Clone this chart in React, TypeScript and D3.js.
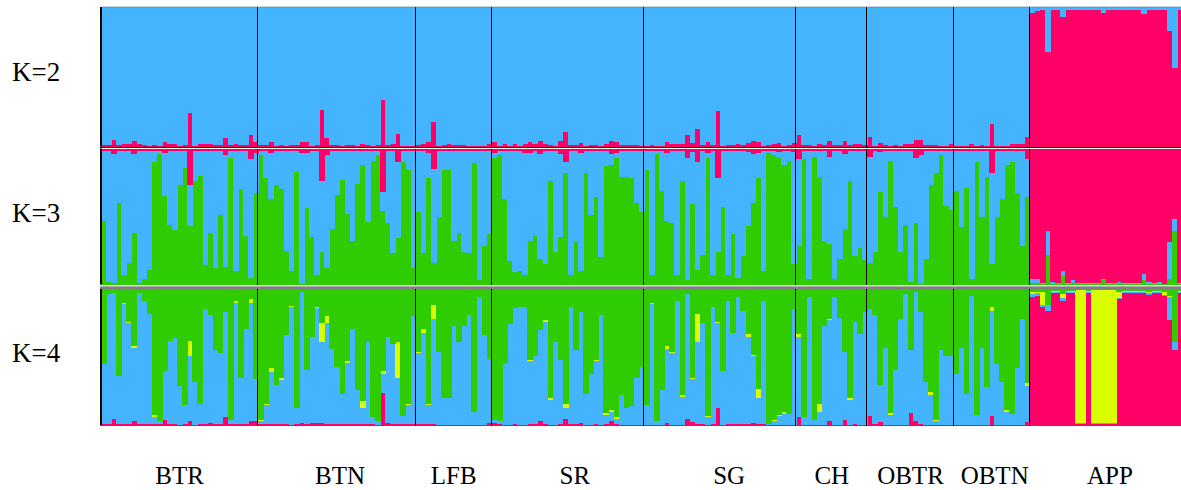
import React from "react";
import * as d3 from "d3";

// populations, in plot order
const popNames = ["BTR", "BTN", "LFB", "SR", "SG", "CH", "OBTR", "OBTN", "APP"];

// K=2 : red share per individual (blue = rest)
const k2Red = [
  [.01, .01, .05, .01, .02, .02, .04, .02, .01, .005, .01, .005, .035, .015, .015, .005, .01, .24, .005, .015, .015, .02, .01, .01, .06, .01, .02, .01, .01, .08, .03],
  [.01, .01, .035, .005, .01, .005, .01, .01, .03, .03, .005, .01, .26, .06, .01, .01, .005, .01, .01, .005, .02, .01, .005, .01, .33, .01, .02, .09, .003, .003, .003],
  [.01, .02, .03, .175, .005, .01, .02, .01, .01, .01, .005, .005, .005, .005, .02],
  [.03, .005, .015, .005, .015, .005, .02, .03, .015, .04, .02, .01, .005, .04, .105, .01, .01, .025, .005, .01, .01, .005, .02, .04, .035, .01, .01, .01, .01, .005],
  [.005, .01, .005, .005, .03, .02, .02, .02, .08, .025, .125, .01, .03, .01, .255, .005, .01, .01, .02, .01, .025, .04, .03, .005, .01, .02, .025, .005, .01, .025],
  [.08, .01, .01, .005, .02, .01, .04, .01, .01, .04, .01, .02, .015, .01],
  [.065, .005, .025, .01, .005, .01, .005, .02, .015, .05, .045, .01, .01, .01, .005, .005, .015],
  [.005, .005, .005, .015, .005, .01, .005, .16, .005, .005, .005, .015, .015, .015, .07],
  [.96, .97, .975, .68, .98, .98, .93, .975, .975, .98, .98, .98, .98, .98, .96, .98, .98, .98, .98, .98, .98, .98, .95, .975, .98, .98, .98, .825, .56, .98],
];

// K=3 : green and red shares (blue = rest)
const k3Green = [
  [.47, .02, .01, .60, .07, .16, .38, .01, .04, .11, .90, .96, .65, .44, .40, .73, .86, .43, .76, .80, .14, .38, .12, .51, .13, .93, .10, .70, .36, .05, .67],
  [.95, .78, .63, .73, .70, .25, .10, .83, .005, .56, .35, .07, .24, .12, .41, .66, .77, .52, .32, .74, .88, .46, .91, .95, .54, .45, .23, .34, .90, .84, .12],
  [.53, .23, .78, .16, .50, .84, .84, .32, .38, .24, .23, .89, .03, .28, .37],
  [.93, .95, .63, .17, .09, .10, .07, .32, .36, .19, .15, .76, .24, .35, .82, .07, .31, .10, .82, .51, .64, .20, .87, .88, .93, .79, .79, .78, .60, .53],
  [.84, .07, .96, .69, .47, .45, .07, .76, .03, .59, .11, .22, .93, .07, .24, .57, .07, .37, .05, .21, .43, .60, .78, .10, .97, .95, .94, .88, .91, .15],
  [.28, .92, .04, .94, .79, .32, .30, .04, .19, .41, .76, .21, .27, .18],
  [.16, .24, .68, .50, .91, .57, .24, .44, .02, .45, .005, .19, .73, .82, .95, .58, .55],
  [.69, .42, .71, .04, .90, .50, .79, .15, .50, .63, .88, .90, .67, .28, .64],
  [.01, .01, .005, .22, .005, .005, .06, .005, .01, .005, .005, .005, .005, .005, .03, .005, .005, .01, .005, .005, .005, .005, .03, .005, .005, .005, .002, .04, .39, .005],
];
const k3Red = [
  [.02, .02, .04, .02, .02, .02, .04, .02, .02, .02, .02, .02, .035, .02, .02, .02, .02, .27, .02, .02, .02, .02, .02, .02, .05, .02, .02, .02, .02, .08, .03],
  [.02, .02, .035, .02, .02, .02, .02, .02, .03, .03, .02, .02, .24, .05, .02, .02, .02, .02, .02, .02, .02, .02, .02, .02, .32, .02, .02, .10, .02, .02, .02],
  [.02, .02, .03, .15, .02, .02, .02, .02, .02, .02, .02, .02, .02, .02, .02],
  [.03, .02, .02, .02, .02, .02, .03, .03, .02, .04, .02, .02, .02, .04, .10, .02, .02, .03, .02, .02, .02, .02, .02, .04, .035, .02, .02, .02, .02, .02],
  [.02, .02, .02, .02, .03, .02, .02, .02, .07, .025, .10, .02, .03, .02, .22, .02, .02, .02, .02, .02, .025, .04, .03, .02, .02, .02, .025, .02, .02, .025],
  [.08, .02, .02, .02, .02, .02, .06, .02, .02, .04, .02, .02, .02, .02],
  [.06, .02, .025, .02, .02, .02, .02, .02, .02, .07, .045, .02, .02, .02, .02, .02, .02],
  [.02, .015, .015, .02, .015, .02, .015, .18, .015, .015, .015, .02, .02, .02, .08],
  [.96, .96, .99, .61, .98, .99, .90, .99, .97, .99, .99, .99, .99, .99, .96, .99, .99, .985, .99, .99, .99, .99, .92, .98, .99, .98, .995, .69, .52, .99],
];

// K=4 : red, blue, yellow shares (green = rest)
const k4Red = [
  [.01, .01, .05, .01, .01, .01, .035, .01, .01, .01, .01, .01, .04, .01, .01, .005, .01, .035, .005, .01, .01, .02, .01, .01, .06, .01, .01, .01, .01, .035, .035],
  [.01, .01, .01, .01, .01, .01, .005, .01, .015, .01, .015, .02, .02, .01, .01, .01, .01, .01, .01, .01, .01, .01, .01, .005, .24, .02, .01, .01, .01, .01, .01],
  [.01, .01, .01, .01, .005, .005, .005, .005, .005, .005, .005, .005, .005, .005, .015],
  [.02, .01, .005, .005, .01, .005, .005, .01, .01, .035, .01, .005, .005, .01, .05, .01, .01, .02, .005, .005, .01, .005, .01, .035, .01, .005, .005, .005, .005, .005],
  [.005, .005, .005, .005, .015, .005, .005, .005, .045, .025, .01, .01, .005, .01, .13, .005, .01, .01, .01, .01, .01, .02, .01, .01, .005, .005, .005, .005, .005, .005],
  [.065, .005, .005, .005, .005, .005, .035, .005, .005, .04, .005, .01, .005, .005],
  [.07, .01, .025, .005, .005, .005, .005, .005, .09, .03, .01, .005, .005, .005, .005, .005, .005],
  [.005, .005, .005, .005, .005, .005, .005, .07, .005, .005, .005, .005, .005, .005, .025],
  [.945, .95, .87, .84, .97, .97, .91, .97, .97, .01, .01, .97, .01, .01, .01, .01, .01, .93, .97, .97, .97, .97, .97, .955, .97, .97, .95, .77, .55, .97],
];
const k4Blue = [
  [.44, .95, .92, .35, .88, .74, .535, .96, .90, .81, .055, .02, .36, .61, .63, .285, .14, .475, .315, .15, .84, .79, .54, .52, .77, .03, .89, .34, .70, .865, .305],
  [.02, .14, .38, .29, .32, .65, .865, .12, .965, .40, .635, .84, .59, .74, .55, .42, .22, .45, .70, .25, .12, .60, .05, .025, .14, .63, .59, .34, .06, .14, .79],
  [.52, .67, .14, .77, .535, .195, .195, .725, .605, .725, .805, .095, .935, .655, .475],
  [.02, .02, .455, .735, .85, .865, .865, .46, .50, .665, .75, .185, .605, .47, .08, .86, .54, .81, .225, .375, .46, .805, .07, .065, .04, .215, .125, .135, .345, .425],
  [.145, .885, .025, .255, .545, .525, .905, .205, .915, .315, .60, .74, .055, .86, .62, .395, .90, .67, .93, .83, .64, .49, .19, .90, .005, .025, .065, .08, .08, .845],
  [.585, .055, .935, .035, .095, .725, .735, .935, .785, .50, .185, .75, .665, .825],
  [.78, .80, .275, .565, .075, .405, .775, .955, .46, .95, .82, .315, .215, .025, .545, .505, .505],
  [.375, .565, .225, .945, .075, .565, .275, .77, .445, .315, .095, .08, .415, .775, .265],
  [.02, .02, .01, .04, .005, .005, .025, .005, .005, .005, .005, .005, .005, .005, .005, .005, .005, .005, .005, .005, .005, .005, .005, .015, .005, .005, .005, .17, .065, .005],
];
const k4Yellow = [
  [0, 0, 0, 0, .005, .01, .01, 0, .005, 0, .01, 0, 0, 0, 0, 0, 0, .11, 0, 0, 0, 0, 0, 0, 0, 0, .015, 0, 0, .03, 0],
  [.01, .01, .03, 0, .02, 0, .005, 0, 0, 0, 0, .005, .14, .05, 0, 0, 0, .015, 0, 0, .05, 0, 0, 0, .02, 0, 0, .26, 0, .01, 0],
  [.01, .025, .01, .10, 0, 0, 0, 0, 0, 0, 0, 0, 0, 0, 0],
  [0, 0, 0, 0, 0, 0, 0, .01, 0, 0, .01, .01, 0, 0, .03, 0, 0, 0, 0, 0, .01, 0, .01, .01, .01, 0, 0, 0, 0, 0],
  [0, .01, 0, 0, .02, .01, 0, .01, 0, .01, .21, 0, .01, 0, .01, 0, 0, 0, .005, 0, .02, .01, .07, .005, 0, .01, .01, .015, 0, .005],
  [.02, 0, 0, 0, .06, 0, .01, 0, 0, 0, .01, 0, 0, 0],
  [0, 0, 0, 0, .01, 0, 0, 0, 0, 0, 0, 0, .025, .01, 0, 0, 0],
  [0, 0, 0, 0, 0, 0, 0, .03, 0, 0, .01, 0, 0, 0, .025],
  [.01, .005, .10, 0, .01, .01, .025, .01, .01, .975, .975, .01, .975, .975, .975, .975, .975, .045, .01, .01, .01, .01, .01, .01, .01, .01, .025, .01, 0, .01],
];

// small nudges of the population labels, as in the original figure
const labelShift = [0, 3, 0, 7, 9, 0, 0, 3, 4];

const colors: Record<string, string> = {
  red: "#ff0066",
  blue: "#45b4ff",
  green: "#2ecc00",
  yellow: "#d9ff00",
};

const width = 1181;
const height = 490;
const plotLeft = 101;
const plotRight = 1182;
const serif = "Liberation Serif, Times New Roman, serif";

const clamp = (v: number) => Math.max(0, v);

export default function App() {
  const sizes = k2Red.map((p) => p.length);
  const n = d3.sum(sizes);
  const ids = d3.range(n);
  // population boundaries, as a plain array (d3.cumsum gives a typed array)
  const starts: number[] = Array.from(d3.cumsum([0, ...sizes]));

  const x = d3.scaleBand<number>().domain(ids).range([plotLeft, plotRight]).padding(0);
  const xPos = d3.scaleLinear().domain([0, n]).range([plotLeft, plotRight]);

  const r2 = k2Red.flat();
  const g3 = k3Green.flat();
  const r3 = k3Red.flat();
  const r4 = k4Red.flat();
  const b4 = k4Blue.flat();
  const y4 = k4Yellow.flat();

  const rows2 = ids.map((i) => ({ red: r2[i], blue: clamp(1 - r2[i]) }));
  const rows3 = ids.map((i) => ({ green: g3[i], blue: clamp(1 - g3[i] - r3[i]), red: r3[i] }));
  const rows4 = ids.map((i) => ({
    red: r4[i],
    blue: b4[i],
    yellow: y4[i],
    green: clamp(1 - r4[i] - b4[i] - y4[i]),
  }));

  const panels = [
    { label: "K=2", top: 7, bottom: 146.5, rows: rows2, keys: ["red", "blue"], labelY: 81 },
    { label: "K=3", top: 148.5, bottom: 284.5, rows: rows3, keys: ["green", "blue", "red"], labelY: 222 },
    { label: "K=4", top: 289, bottom: 425.5, rows: rows4, keys: ["red", "blue", "yellow", "green"], labelY: 362 },
  ];

  return (
    <div style={{ position: "absolute", left: 0, top: 0 }}>
      <svg width={width} height={height} style={{ display: "block", background: "#fff" }}>
        {panels.map((p) => {
          const y = d3.scaleLinear().domain([0, 1]).range([p.bottom, p.top]);
          const series = d3.stack<any>().keys(p.keys)(p.rows as any[]);
          return (
            <g key={p.label}>
              <g shapeRendering="crispEdges">
                {series.map((s) => (
                  <g key={s.key} fill={colors[s.key]}>
                    {s.map((d, i) => {
                      const x0 = x(i) as number;
                      const h = y(d[0]) - y(d[1]);
                      if (h <= 0) return null;
                      return <rect key={i} x={x0} y={y(d[1])} width={x.bandwidth() + 0.6} height={h} />;
                    })}
                  </g>
                ))}
              </g>
              <g shapeRendering="crispEdges">
                {starts.slice(1, -1).map((s, j) => {
                  const sx = Math.round(xPos(s)) - 0.5;
                  return <line key={j} x1={sx} x2={sx} y1={p.top} y2={p.bottom} stroke="#000" strokeWidth={1.3} />;
                })}
              </g>
              <line x1={plotLeft} x2={plotLeft} y1={p.top} y2={p.bottom} stroke="#000" strokeWidth={2} />
              <text x={12} y={p.labelY} style={{ fontFamily: serif, fontSize: 27 }} fill="#000">
                {p.label}
              </text>
            </g>
          );
        })}
        <line x1={plotLeft} x2={plotRight} y1={7} y2={7} stroke="#4a7fa5" strokeWidth={1} opacity={0.6} />
        <line x1={plotLeft - 1} x2={plotRight} y1={147.5} y2={147.5} stroke="#000" strokeWidth={1.2} />
        <line x1={plotLeft - 1} x2={plotRight} y1={286.3} y2={286.3} stroke="#999" strokeWidth={1} />
        <line x1={plotLeft - 1} x2={plotRight} y1={288} y2={288} stroke="#000" strokeWidth={1.2} />
        {popNames.map((name, j) => (
          <text
            key={name}
            x={xPos((starts[j] + starts[j + 1]) / 2) + labelShift[j]}
            y={484}
            textAnchor="middle"
            style={{ fontFamily: serif, fontSize: 25 }}
            fill="#000"
          >
            {name}
          </text>
        ))}
      </svg>
    </div>
  );
}
